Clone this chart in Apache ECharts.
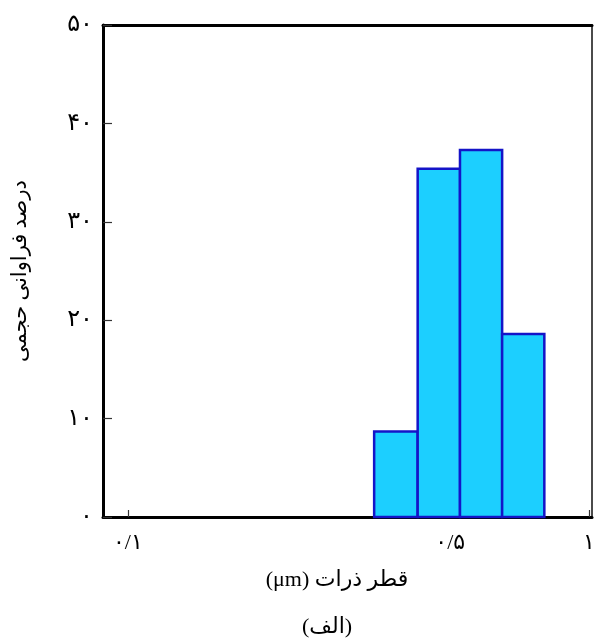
<!DOCTYPE html>
<html>
<head>
<meta charset="utf-8">
<script src="https://cdn.jsdelivr.net/npm/echarts@6/dist/echarts.min.js"></script>
<style>html,body{margin:0;padding:0;background:#fff;overflow:hidden}#c{width:594px;height:641px}</style>
</head>
<body>
<div id="c"></div>
<script>
// Data
const binStart = [0.342, 0.425, 0.525, 0.648];
const binEnd = [0.425, 0.525, 0.648, 0.800];
const volumePercent = [8.7, 35.4, 37.3, 18.6];
const xTickValues = [0.1, 0.5, 1];
const xTickLabels = ['۰/۱', '۰/۵', '۱'];
const yTickValues = [0, 10, 20, 30, 40, 50];
const yTickLabels = ['۰', '۱۰', '۲۰', '۳۰', '۴۰', '۵۰'];
const xAxisTitle = 'قطر ذرات (μm)';
const yAxisTitle = 'درصد فراوانی حجمی';
const caption = '(الف)';

const RTL = s => '\u202B' + s + '\u202C';
const FONT = "'Liberation Serif', 'DejaVu Sans', serif";
const chart = echarts.init(document.getElementById('c'));
const barData = binStart.map((s, i) => [s, binEnd[i], volumePercent[i]]);

chart.setOption({
  animation: false,
  backgroundColor: '#fff',
  grid: { left: 103, top: 25, right: 2, bottom: 124, outerBoundsMode: 'none', containLabel: false,
          show: true, borderColor: '#111', borderWidth: 1.5 },
  xAxis: [{
    type: 'log', logBase: 10, min: 0.0883, max: 1.015,
    position: 'bottom',
    axisLine: { show: true, onZero: false, lineStyle: { color: '#000', width: 3 } },
    axisTick: { show: true, inside: true, length: 7, customValues: xTickValues, lineStyle: { color: '#333', width: 1.2 } },
    minorTick: { show: false },
    splitLine: { show: false },
    axisLabel: {
      customValues: xTickValues, margin: 15, hideOverlap: false,
      fontFamily: FONT, fontSize: 22, color: '#000',
      formatter: v => { const i = xTickValues.findIndex(t => Math.abs(t - v) < 1e-6); return i >= 0 ? xTickLabels[i] : ''; }
    }
  }, {
    type: 'log', logBase: 10, min: 0.0883, max: 1.015, position: 'top',
    axisLine: { show: true, onZero: false, lineStyle: { color: '#000', width: 3 } },
    axisTick: { show: false }, axisLabel: { show: false }, splitLine: { show: false }
  }],
  yAxis: {
    type: 'value', min: 0, max: 50, interval: 10,
    name: RTL(yAxisTitle), nameLocation: 'middle', nameGap: 72, nameRotate: 90,
    nameTextStyle: { fontFamily: FONT, fontSize: 21, color: '#000' },
    axisLine: { show: true, lineStyle: { color: '#000', width: 3 } },
    axisTick: { show: true, inside: true, length: 9, lineStyle: { color: '#333', width: 1.2 } },
    splitLine: { show: false },
    axisLabel: {
      margin: 10, fontFamily: FONT, fontSize: 24, color: '#000',
      formatter: v => yTickLabels[yTickValues.indexOf(v)]
    }
  },
  graphic: [{
    type: 'text', x: 337, y: 580,
    style: { text: RTL(xAxisTitle), font: '22px ' + FONT, fill: '#000', textAlign: 'center', textVerticalAlign: 'middle' }
  }, {
    type: 'text', x: 327, y: 627,
    style: { text: RTL(caption), font: '22px ' + FONT, fill: '#000', textAlign: 'center', textVerticalAlign: 'middle' }
  }],
  series: [{
    type: 'custom',
    xAxisIndex: 0,
    data: barData,
    encode: { x: [0, 1], y: 2 },
    renderItem: (params, api) => {
      const p0 = api.coord([api.value(0), api.value(2)]);
      const p1 = api.coord([api.value(1), 0]);
      return {
        type: 'rect',
        shape: { x: p0[0], y: p0[1], width: p1[0] - p0[0], height: p1[1] - p0[1] },
        style: { fill: '#1ccfff', stroke: '#1414c8', lineWidth: 2.5 }
      };
    }
  }]
});
</script>
</body>
</html>
